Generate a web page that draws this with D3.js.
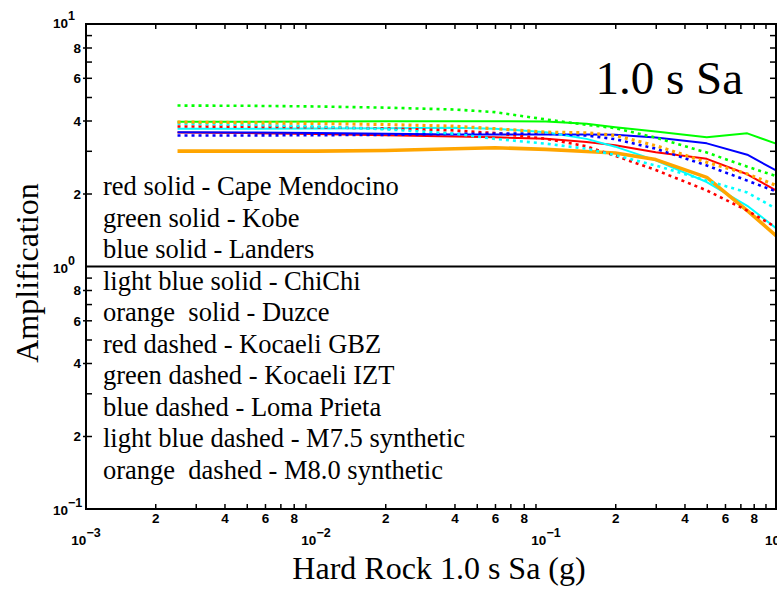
<!DOCTYPE html>
<html>
<head>
<meta charset="utf-8">
<script src="https://cdn.jsdelivr.net/npm/d3@7"></script>
<style>
  html, body { margin: 0; padding: 0; background: #fff; }
  svg { display: block; }
  .tick text { font-family: "Liberation Sans", Arial, sans-serif; font-weight: bold; font-size: 13.5px; fill: #000; }
  .tick line { stroke: #000; stroke-width: 1.5px; }
</style>
</head>
<body>
<svg id="chart" width="777" height="590"></svg>
<script>
// ---- data ----
const xValues = [0.0025, 0.005, 0.01, 0.02, 0.04, 0.06, 0.1, 0.15, 0.2, 0.3, 0.5, 0.75, 1.0];

const capeMendocino = [3.57, 3.55, 3.52, 3.48, 3.44, 3.41, 3.36, 3.26, 3.16, 2.96, 2.78, 2.40, 2.06];
const kobe          = [3.95, 3.95, 3.96, 3.97, 3.97, 3.97, 3.96, 3.88, 3.75, 3.60, 3.41, 3.54, 3.21];
const landers       = [3.58, 3.57, 3.55, 3.53, 3.50, 3.50, 3.50, 3.50, 3.49, 3.40, 3.22, 2.89, 2.49];
const chiChi        = [3.70, 3.70, 3.71, 3.72, 3.73, 3.70, 3.58, 3.36, 3.12, 2.74, 2.23, 1.78, 1.44];
const duzce         = [2.99, 2.99, 2.99, 3.01, 3.06, 3.09, 3.04, 2.98, 2.94, 2.76, 2.33, 1.70, 1.34];
const kocaeliGBZ    = [3.78, 3.77, 3.75, 3.71, 3.64, 3.55, 3.36, 3.13, 2.86, 2.50, 2.06, 1.70, 1.45];
const kocaeliIZT    = [4.61, 4.60, 4.57, 4.52, 4.44, 4.33, 4.04, 3.84, 3.72, 3.40, 2.95, 2.58, 2.36];
const lomaPrieta    = [3.47, 3.47, 3.48, 3.49, 3.52, 3.53, 3.53, 3.47, 3.35, 3.06, 2.61, 2.26, 2.04];
const m75synthetic  = [3.88, 3.84, 3.78, 3.68, 3.53, 3.36, 3.21, 3.06, 2.88, 2.61, 2.26, 2.02, 1.73];
const m80synthetic  = [3.94, 3.92, 3.89, 3.85, 3.79, 3.70, 3.58, 3.56, 3.47, 3.15, 2.69, 2.41, 2.16];

const seriesNames  = ["Cape Mendocino", "Kobe", "Landers", "ChiChi", "Duzce", "Kocaeli GBZ", "Kocaeli IZT", "Loma Prieta", "M7.5 synthetic", "M8.0 synthetic"];
const seriesValues = [capeMendocino, kobe, landers, chiChi, duzce, kocaeliGBZ, kocaeliIZT, lomaPrieta, m75synthetic, m80synthetic];
const seriesColors = ["#ff0000", "#00ff00", "#0000ff", "#00ffff", "#ffa500", "#ff0000", "#00ff00", "#0000ff", "#00ffff", "#ffa500"];
const seriesDashed = [false, false, false, false, false, true, true, true, true, true];

const legendLabels = [
  "red solid - Cape Mendocino",
  "green solid - Kobe",
  "blue solid - Landers",
  "light blue solid - ChiChi",
  "orange  solid - Duzce",
  "red dashed - Kocaeli GBZ",
  "green dashed - Kocaeli IZT",
  "blue dashed - Loma Prieta",
  "light blue dashed - M7.5 synthetic",
  "orange  dashed - M8.0 synthetic"
];

const xMinorTicks = [2,3,4,5,6,7,8,9].flatMap(m => [m * 1e-3, m * 1e-2, m * 1e-1]);
const yMinorTicks = [2,3,4,5,6,7,8,9].flatMap(m => [m * 0.1, m]);
const xDecades = [{v: 1e-3, e: "−3"}, {v: 1e-2, e: "−2"}, {v: 1e-1, e: "−1"}, {v: 1, e: "0"}];
const yDecades = [{v: 10, e: "1"}, {v: 1, e: "0"}, {v: 0.1, e: "−1"}];

const chartTitle = "1.0 s Sa";
const xTitle = "Hard Rock 1.0 s Sa (g)";
const yTitle = "Amplification";

// ---- layout ----
const L = 86, R = 776, T = 24, B = 509;
const svg = d3.select("#chart");
const x = d3.scaleLog().domain([1e-3, 1]).range([L, R]);
const y = d3.scaleLog().domain([0.1, 10]).range([B, T]);

const leading = m => {
  const r = Math.round(m / Math.pow(10, Math.floor(Math.log10(m) + 1e-9)));
  return r;
};
const labelFmt = d => { const r = leading(d); return (r % 2 === 0) ? String(r) : ""; };

// axes
const gB = svg.append("g").attr("transform", `translate(0,${B})`)
  .call(d3.axisBottom(x).tickValues(xMinorTicks).tickSize(-5).tickPadding(4).tickFormat(labelFmt));
const gT = svg.append("g").attr("transform", `translate(0,${T})`)
  .call(d3.axisTop(x).tickValues(xMinorTicks).tickSize(-5).tickFormat(""));
const gL = svg.append("g").attr("transform", `translate(${L},0)`)
  .call(d3.axisLeft(y).tickValues(yMinorTicks).tickSize(-6).tickPadding(5).tickFormat(labelFmt));
const gR = svg.append("g").attr("transform", `translate(${R},0)`)
  .call(d3.axisRight(y).tickValues(yMinorTicks).tickSize(-6).tickFormat(""));
[gB, gT, gL, gR].forEach(g => g.select(".domain").remove());
gL.selectAll(".tick text").attr("dy", "0.36em");
gB.selectAll(".tick text").attr("dy", "0.71em");

// short outward stubs on labelled y ticks
gL.selectAll(".tick").filter(d => leading(d) % 2 === 0)
  .append("line").attr("x1", -3).attr("x2", 0).attr("stroke", "#000").attr("stroke-width", 1.5);

// decade labels
const decFont = "'Liberation Sans', Arial, sans-serif";
xDecades.forEach(d => {
  const t = svg.append("text").attr("x", x(d.v)).attr("y", 545)
    .attr("text-anchor", "middle").attr("font-family", decFont).attr("font-weight", "bold").attr("font-size", 13.5);
  t.append("tspan").text("10");
  t.append("tspan").attr("dy", -8).attr("font-size", 12.5).text(d.e);
});
yDecades.forEach(d => {
  const t = svg.append("text").attr("x", 53).attr("y", y(d.v) + (d.v === 10 ? 4 : 6))
    .attr("font-family", decFont).attr("font-weight", "bold").attr("font-size", 13.5);
  t.append("tspan").text("10");
  t.append("tspan").attr("dy", -8).attr("font-size", 12.5).text(d.e);
});

// lines
const line = d3.line().x((d, i) => x(xValues[i])).y(d => y(d));
seriesValues.forEach((vals, k) => {
  const isOrange = seriesColors[k] === "#ffa500";
  svg.append("path")
    .datum(vals)
    .attr("d", line)
    .attr("fill", "none")
    .attr("stroke", seriesColors[k])
    .attr("stroke-width", seriesDashed[k] ? (isOrange ? 3.2 : 2.6) : (isOrange ? 3.6 : 2))
    .attr("stroke-dasharray", seriesDashed[k] ? "3,4" : null)
    .attr("stroke-linejoin", "round");
});

// reference line at amplification 1
svg.append("line").attr("x1", L).attr("x2", R).attr("y1", y(1)).attr("y2", y(1))
  .attr("stroke", "#000").attr("stroke-width", 2);

// frame
svg.append("rect").attr("x", L).attr("y", T).attr("width", R - L).attr("height", B - T)
  .attr("fill", "none").attr("stroke", "#000").attr("stroke-width", 2);

// legend text
const serif = "'Liberation Serif', 'Times New Roman', serif";
svg.append("g").selectAll("text").data(legendLabels).join("text")
  .attr("x", 103).attr("y", (d, i) => 195 + i * 31.5)
  .attr("font-family", serif).attr("font-size", 26.5)
  .style("white-space", "pre")
  .text(d => d);

// title
svg.append("text").attr("x", 743).attr("y", 94).attr("text-anchor", "end")
  .attr("font-family", serif).attr("font-size", 47).text(chartTitle);

// axis titles
svg.append("text").attr("x", 439).attr("y", 579).attr("text-anchor", "middle")
  .attr("font-family", serif).attr("font-size", 32).text(xTitle);
svg.append("text").attr("transform", "translate(38,273) rotate(-90)").attr("text-anchor", "middle")
  .attr("font-family", serif).attr("font-size", 32).text(yTitle);
</script>
</body>
</html>
